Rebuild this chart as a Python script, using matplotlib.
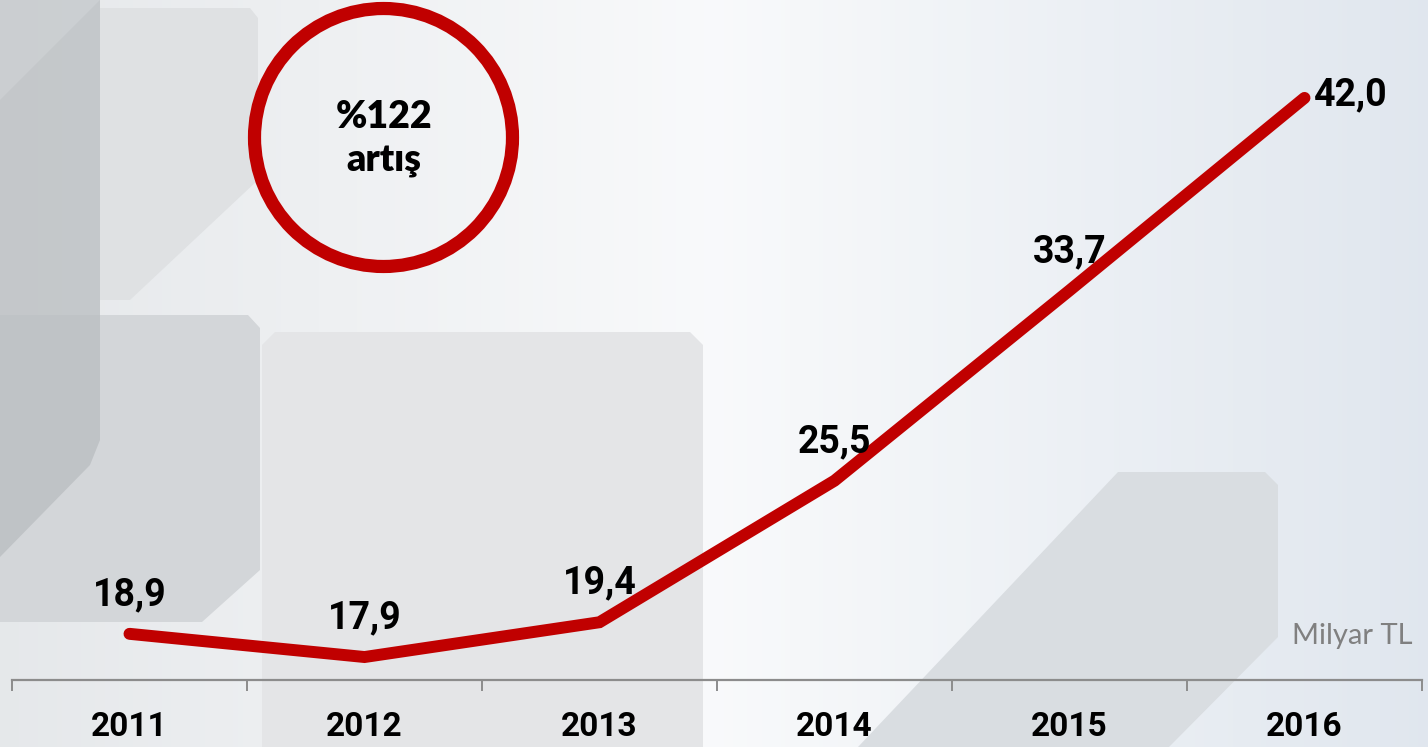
import numpy as np
import matplotlib
matplotlib.use("Agg")
import matplotlib.pyplot as plt
from matplotlib.patches import Polygon, Ellipse

# data
years = ['2011', '2012', '2013', '2014', '2015', '2016']
values = [18.9, 17.9, 19.4, 25.5, 33.7, 42.0]
labels = ['18,9', '17,9', '19,4', '25,5', '33,7', '42,0']

W, H = 1428, 747
fig = plt.figure(figsize=(W / 100, H / 100), dpi=100)

# background (pixel coords, y down)
bg = fig.add_axes([0, 0, 1, 1])
bg.set_xlim(0, W)
bg.set_ylim(H, 0)
bg.axis('off')
xs = np.linspace(0, 1, 300)
c0 = np.array([0.90, 0.91, 0.92])
c1 = np.array([0.975, 0.98, 0.985])
c2 = np.array([0.88, 0.905, 0.935])
grad = np.where(xs[:, None] < 0.5,
                c0 + (c1 - c0) * (xs[:, None] / 0.5),
                c1 + (c2 - c1) * ((xs[:, None] - 0.5) / 0.5))
bg.imshow(grad[None, :, :], extent=[0, W, H, 0], aspect='auto', zorder=0)

shapes = [
    # top box
    ([(100, 8), (250, 8), (258, 18), (258, 180), (130, 300), (100, 300)], '#dfe1e3', 1),
    # lower left box
    ([(0, 315), (248, 315), (260, 328), (260, 570), (202, 622), (0, 622)], '#d3d6d9', 1),
    # middle box
    ([(262, 345), (275, 332), (690, 332), (703, 345), (703, 747), (262, 747)], '#e4e5e7', 1),
    # right box
    ([(1118, 472), (1265, 472), (1278, 485), (1278, 637), (1169, 747), (858, 747)], '#d9dde1', 1),
    # dark left column
    ([(0, 0), (100, 0), (100, 440), (90, 465), (0, 557)], '#b9bdc0', 0.75),
    ([(0, 0), (100, 0), (0, 100)], '#cdd1d4', 0.8),
]
for pts, col, a in shapes:
    bg.add_patch(Polygon(pts, closed=True, facecolor=col, edgecolor='none',
                         alpha=a, zorder=1))

# circle annotation
bg.add_patch(Ellipse((383.5, 137.5), 258, 258, facecolor='none',
                     edgecolor='#c00000', linewidth=9.5, zorder=3))
bg.text(384, 117, '%122', ha='center', va='center', fontsize=27,
        fontweight='heavy', family=['Lato', 'DejaVu Sans'], color='black', zorder=4)
bg.text(384, 161, 'artış', ha='center', va='center', fontsize=27,
        fontweight='heavy', family=['Lato', 'DejaVu Sans'], color='black', zorder=4)
bg.text(1412, 636, 'Milyar TL', ha='right', va='center', fontsize=21,
        family=['Lato', 'DejaVu Sans'], color='#808080', zorder=4)

# main chart
ax = fig.add_axes([12 / W, 67 / H, 1410 / W, 680 / H])
ax.patch.set_alpha(0)
x = np.arange(len(years))
ax.plot(x, values, color='#c00000', linewidth=8.6, solid_capstyle='round',
        solid_joinstyle='miter', clip_on=False, zorder=5)
ax.set_xlim(-0.5, len(years) - 0.5)
ax.set_ylim(16.91, 46.22)

for i, (v, lab) in enumerate(zip(values, labels)):
    if i == len(values) - 1:
        ax.annotate(lab, (i, v), xytext=(33, 2), textcoords='offset points',
                    ha='center', va='center', fontsize=27, fontweight='bold',
                    family=['Roboto', 'DejaVu Sans'], zorder=6)
    else:
        ax.annotate(lab, (i, v), xytext=(0, 28), textcoords='offset points',
                    ha='center', va='center', fontsize=27, fontweight='bold',
                    family=['Roboto', 'DejaVu Sans'], zorder=6)

for s in ['top', 'right', 'left']:
    ax.spines[s].set_visible(False)
ax.spines['bottom'].set_color('#8c8c8c')
ax.spines['bottom'].set_linewidth(1.6)
ax.set_yticks([])
ax.set_xticks(np.arange(-0.5, len(years), 1.0))
ax.set_xticklabels([])
ax.tick_params(axis='x', which='major', length=8, width=1.4, color='#8c8c8c')
ax.set_xticks(x, minor=True)
ax.set_xticklabels(years, minor=True, fontsize=24, fontweight='bold',
                   family=['Roboto', 'DejaVu Sans'])
ax.tick_params(axis='x', which='minor', length=0, pad=22)

fig.savefig('out.png', dpi=100)
